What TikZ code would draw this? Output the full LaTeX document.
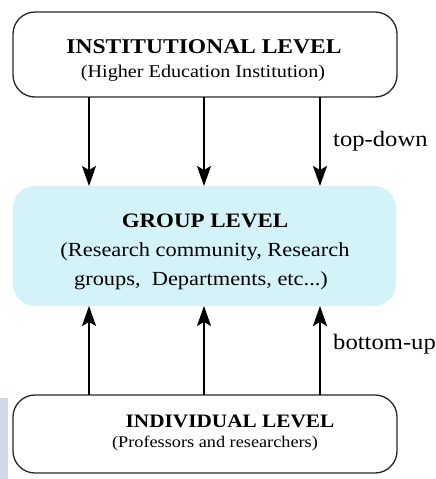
\documentclass[tikz,border=0pt]{standalone}
\usepackage{fontspec}
\setmainfont[FakeStretch=1.12]{Liberation Serif}
\usetikzlibrary{arrows.meta}
\definecolor{groupfill}{HTML}{D4F3F9}
\definecolor{stripfill}{HTML}{D0D9E5}
\tikzset{
  levelbox/.style={draw=black!85, line width=1.3pt, rounded corners=22pt},
  groupbox/.style={fill=groupfill, rounded corners=22pt},
  flow/.style={line width=1.3pt, -{Stealth[length=20pt,width=14pt,inset=4pt]}},
  title/.style={font=\bfseries\fontsize{21}{24}\selectfont, inner sep=0pt, anchor=base},
  sub/.style={font=\fontsize{18}{21}\selectfont, inner sep=0pt, anchor=base},
  side/.style={font=\fontsize{22}{24}\selectfont, inner sep=0pt, anchor=base west}
}
\begin{document}
\begin{tikzpicture}[x=1pt,y=-1pt]
\useasboundingbox (0,0) rectangle (436,479);
\fill[stripfill] (0,398) rectangle (8,479);
% boxes
\draw[levelbox] (13,12) rectangle (397,97);
\node[title] (inst) at (204,53) {INSTITUTIONAL LEVEL};
\node[sub] (instsub) at (203,77) {(Higher Education Institution)};
\coordinate (t1) at (89,97); \coordinate (t2) at (204,97); \coordinate (t3) at (320,97);
\fill[groupbox] (13,186) rectangle (396,306);
\node[title, font=\bfseries\fontsize{20.5}{24}\selectfont] (grp) at (205,227) {GROUP LEVEL};
\node[sub, font=\fontsize{20}{24}\selectfont] (grp2) at (205,256) {(Research community, Research};
\node[sub, font=\fontsize{20}{24}\selectfont] (grp3) at (201,285) {groups,\ \ Departments, etc...)};
\coordinate (g1) at (89,186); \coordinate (g2) at (204,186); \coordinate (g3) at (320,186);
\coordinate (h1) at (89,306); \coordinate (h2) at (204,306); \coordinate (h3) at (320,306);
\draw[levelbox] (13,395) rectangle (397,473);
\node[title, font=\bfseries\fontsize{19}{22}\selectfont] (ind) at (230,427) {INDIVIDUAL LEVEL};
\node[sub, font=\fontsize{16.3}{20}\selectfont] (indsub) at (215,447) {(Professors and researchers)};
\coordinate (b1) at (89,395); \coordinate (b2) at (204,395); \coordinate (b3) at (320,395);
% arrows
\draw[flow] (t1) -- (g1);
\draw[flow] (t2) -- (g2);
\draw[flow] (t3) -- (g3);
\draw[flow] (b1) -- (h1);
\draw[flow] (b2) -- (h2);
\draw[flow] (b3) -- (h3);
\node[side] (td) at (333,146) {top-down};
\node[side] (bu) at (333,349) {bottom-up};
\end{tikzpicture}
\end{document}
